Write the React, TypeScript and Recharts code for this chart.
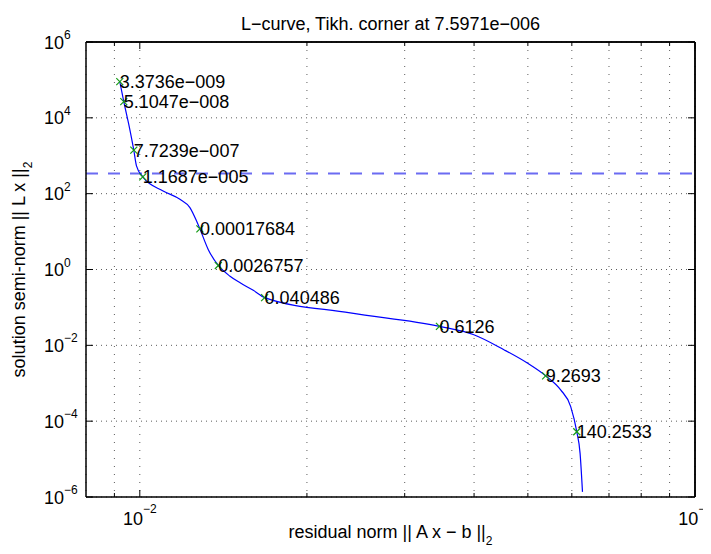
import React from 'react';
import { ComposedChart, Line, Scatter, XAxis, YAxis, CartesianGrid, ReferenceLine, Label } from 'recharts';

// L-curve (residual norm vs. solution semi-norm)
const curveX = [0.009203, 0.009357, 0.009565, 0.009754, 0.009863, 0.010125, 0.011015, 0.01181, 0.01231, 0.012654, 0.01283, 0.01328, 0.01385, 0.014539, 0.01516, 0.016011, 0.01678, 0.02393, 0.03465, 0.03997, 0.04527, 0.04989, 0.05383, 0.05728, 0.05972, 0.06124, 0.06209, 0.06271];
const curveY = [90157, 26670, 6180, 1406, 541, 276.7, 117.9, 71.1, 42.9, 18.96, 11.78, 3.38, 1.276, 0.665, 0.4446, 0.2833, 0.1816, 0.07145, 0.03162, 0.01905, 0.00766, 0.003404, 0.00157, 0.000668, 0.000242, 5.27e-5, 1.416e-5, 1.364e-6];

// marked regularization parameters
const markerX = [0.009203, 0.009357, 0.009754, 0.010125, 0.01283, 0.01385, 0.01678, 0.03465, 0.05383, 0.06124];
const markerY = [90157, 26670, 1406, 276.7, 11.78, 1.276, 0.1816, 0.03162, 0.00157, 5.27e-5];
const markerLabels = ['3.3736e−009', '5.1047e−008', '7.7239e−007', '1.1687e−005', '0.00017684', '0.0026757', '0.040486', '0.6126', '9.2693', '140.2533'];

const xDomain = [0.008, 0.1];
const xTicks = [0.009, 0.01, 0.02, 0.03, 0.04, 0.05, 0.06, 0.07, 0.08, 0.09, 0.1];
const yDomain = [1e-6, 1e6];
const yTicks = [1e-6, 1e-4, 1e-2, 1, 1e2, 1e4, 1e6];
const cornerLevel = 340;

const title = 'L−curve, Tikh. corner at 7.5971e−006';
const xLabel = 'residual norm || A x − b ||';
const yLabel = 'solution semi-norm || L x ||';
const labelSub = '2';

const curveData = curveX.map((x, i) => ({ x, y: curveY[i] }));
const markerData = markerX.map((x, i) => ({ x, y: markerY[i], label: markerLabels[i] }));

const FONT = '"Liberation Sans", Arial, Helvetica, sans-serif';

const expText = (v: number) => {
  const e = Math.round(Math.log10(v));
  return e < 0 ? '−' + Math.abs(e) : String(e);
};
const isMajor = (v: number) => {
  const lg = Math.log10(v);
  return Math.abs(lg - Math.round(lg)) < 1e-6;
};

const makeTick = (side: 'bottom' | 'top' | 'left' | 'right', showLabel: boolean) => (props: any) => {
  const { x, y, payload } = props;
  const v = payload.value;
  const len = isMajor(v) ? 7 : 4;
  let line;
  if (side === 'bottom') line = <line x1={x} x2={x} y1={y} y2={y - len} stroke="#000" strokeWidth={1} />;
  else if (side === 'top') line = <line x1={x} x2={x} y1={y} y2={y + len} stroke="#000" strokeWidth={1} />;
  else if (side === 'left') line = <line x1={x} x2={x + len} y1={y} y2={y} stroke="#000" strokeWidth={1} />;
  else line = <line x1={x} x2={x - len} y1={y} y2={y} stroke="#000" strokeWidth={1} />;
  let label = null;
  if (showLabel && isMajor(v)) {
    if (side === 'bottom') {
      label = (
        <text x={x} y={y + 28} textAnchor="middle" fontSize={18} fontFamily={FONT} fill="#000">
          <tspan>10</tspan>
          <tspan dy={-12} fontSize={12}>{expText(v)}</tspan>
        </text>
      );
    } else if (side === 'left') {
      label = (
        <g>
          <text x={x - 22} y={y + 6.5} textAnchor="end" fontSize={18} fontFamily={FONT} fill="#000">10</text>
          <text x={x - 22} y={y - 3} textAnchor="start" fontSize={12} fontFamily={FONT} fill="#000">{expText(v)}</text>
        </g>
      );
    }
  }
  return (
    <g>
      {line}
      {label}
    </g>
  );
};

const MarkerShape = (props: any) => {
  const { cx, cy, payload } = props;
  if (cx == null || cy == null) return null;
  const s = 3.5;
  return (
    <g>
      <line x1={cx - s} y1={cy - s} x2={cx + s} y2={cy + s} stroke="#159c15" strokeWidth={1.2} />
      <line x1={cx - s} y1={cy + s} x2={cx + s} y2={cy - s} stroke="#159c15" strokeWidth={1.2} />
      <text x={cx} y={cy + 6.5} fontSize={18} fontFamily={FONT} fill="#000">{payload.label}</text>
    </g>
  );
};

const TitleContent = (props: any) => {
  const vb = props.viewBox || { x: 78, y: 34, width: 608, height: 1 };
  return (
    <text x={vb.x + vb.width / 2} y={vb.y - 12.5} textAnchor="middle" fontSize={18} fontFamily={FONT} fill="#000">{title}</text>
  );
};

const XLabelContent = (props: any) => {
  const vb = props.viewBox || { x: 78, y: 489, width: 608, height: 57 };
  return (
    <text x={vb.x + vb.width / 2} y={vb.y + 41} textAnchor="middle" fontSize={18} fontFamily={FONT} fill="#000">
      <tspan>{xLabel}</tspan>
      <tspan dy={7} fontSize={12}>{labelSub}</tspan>
    </text>
  );
};

const YLabelContent = (props: any) => {
  const vb = props.viewBox || { x: 0, y: 35, width: 78, height: 454 };
  const cx = vb.x + 17;
  const cy = vb.y + vb.height / 2;
  return (
    <text x={cx} y={cy} transform={`rotate(-90, ${cx}, ${cy})`} textAnchor="middle" fontSize={18} fontFamily={FONT} fill="#000">
      <tspan>{yLabel}</tspan>
      <tspan dy={7} fontSize={12}>{labelSub}</tspan>
    </text>
  );
};

export default function App() {
  return (
    <div style={{ width: 703, height: 538 }}>
      <ComposedChart
        width={703}
        height={546}
        data={curveData}
        margin={{ top: 34, right: 16, bottom: 0, left: 0 }}
        style={{ background: '#fff' }}
      >
        <CartesianGrid horizontal={false} stroke="#333" strokeDasharray="1 7" strokeOpacity={0.8} />
        <CartesianGrid vertical={false} stroke="#333" strokeDasharray="1 4" strokeOpacity={0.8} />
        <XAxis
          dataKey="x"
          type="number"
          scale="log"
          domain={xDomain}
          allowDataOverflow
          ticks={xTicks}
          interval={0}
          height={57}
          tickSize={0}
          tickMargin={0}
          tickLine={false}
          axisLine={{ stroke: '#000', strokeWidth: 1.5 }}
          tick={makeTick('bottom', true)}
        >
          <Label content={XLabelContent} />
        </XAxis>
        <XAxis
          xAxisId="top"
          orientation="top"
          dataKey="x"
          type="number"
          scale="log"
          domain={xDomain}
          allowDataOverflow
          ticks={xTicks}
          interval={0}
          height={1}
          mirror
          tickSize={0}
          tickMargin={0}
          tickLine={false}
          axisLine={{ stroke: '#000', strokeWidth: 1.5 }}
          tick={makeTick('top', false)}
        >
          <Label content={TitleContent} />
        </XAxis>
        <YAxis
          dataKey="y"
          type="number"
          scale="log"
          domain={yDomain}
          allowDataOverflow
          ticks={yTicks}
          interval={0}
          width={78}
          tickSize={0}
          tickMargin={0}
          tickLine={false}
          axisLine={{ stroke: '#000', strokeWidth: 1.5 }}
          tick={makeTick('left', true)}
        >
          <Label content={YLabelContent} />
        </YAxis>
        <YAxis
          yAxisId="right"
          orientation="right"
          dataKey="y"
          type="number"
          scale="log"
          domain={yDomain}
          allowDataOverflow
          ticks={yTicks}
          interval={0}
          width={1}
          mirror
          tickSize={0}
          tickMargin={0}
          tickLine={false}
          axisLine={{ stroke: '#000', strokeWidth: 1.5 }}
          tick={makeTick('right', false)}
        />
        <ReferenceLine y={yDomain[1]} stroke="#000" strokeWidth={1.5} ifOverflow="visible" />
        <ReferenceLine x={xDomain[1]} stroke="#000" strokeWidth={1.5} ifOverflow="visible" />
        <ReferenceLine y={cornerLevel} stroke="#6b6bf2" strokeWidth={2} strokeDasharray="12 10" />
        <Line
          xAxisId="top"
          yAxisId="right"
          dataKey="y"
          stroke="none"
          dot={false}
          activeDot={false}
          legendType="none"
          isAnimationActive={false}
        />
        <Line
          dataKey="y"
          type="monotone"
          stroke="#0000ff"
          strokeWidth={1.2}
          dot={false}
          activeDot={false}
          isAnimationActive={false}
        />
        <Scatter data={markerData} dataKey="y" shape={MarkerShape} isAnimationActive={false} />
      </ComposedChart>
    </div>
  );
}
